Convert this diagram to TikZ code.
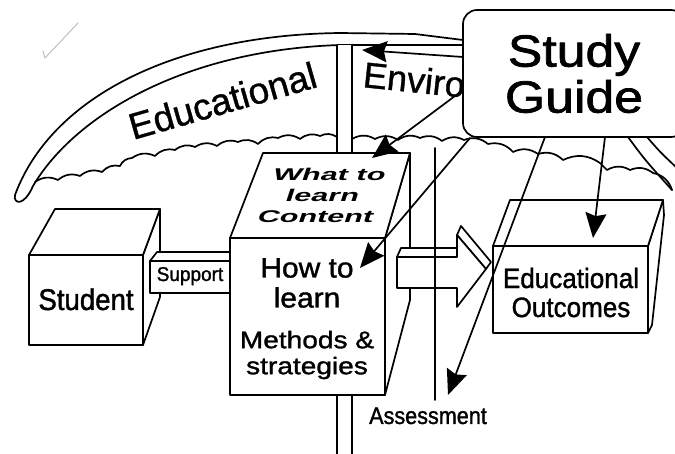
\documentclass[tikz,border=0pt]{standalone}
\usepackage{fontspec}
\setmainfont{Liberation Sans}
\usetikzlibrary{arrows.meta}
\newcommand\myfs[2]{\fontsize{#1}{#2}\selectfont}
\begin{document}
\begin{tikzpicture}[x=1pt,y=-1pt, line join=round, line cap=round,
  ln/.style={line width=1.7pt, draw=black},
  face/.style={ln, fill=white},
  lbl/.style={inner sep=0pt, text=black},
  wv/.style={bend left=30},
  sgarrow/.style={ln, -{Stealth[length=25pt,width=21pt,inset=3pt]}},
]
\path[use as bounding box] (0,0) rectangle (675,454);
\clip (0,0) rectangle (675,454);

% stray pen mark
\draw[gray!55, line width=0.9pt] (43,51) -- (45,58) -- (78,23);

% canopy band
\draw[ln] (463,40) -- (415,34) -- (340,33) .. controls (170,35) and (50,100) .. (15,195)
  .. controls (13,204) and (24,207) .. (33,186)
  .. controls (75,115) and (185,50) .. (340,45) -- (463,45);
% right side of band
\draw[ln] (628,137) .. controls (645,160) .. (672,190);
\draw[ln] (647,137) .. controls (660,152) .. (677,168);

% wavy underside of canopy
\draw[ln] (35,182) to[wv] (58,180) to[wv] (80,176) to[wv] (102,172) to[wv] (120,166)
  to[wv] (132,158) to[wv] (155,156) to[wv] (175,150) to[wv] (195,147) to[wv] (217,146)
  to[wv] (238,142) to[wv] (258,144) to[wv] (278,138) to[wv] (300,139) to[wv] (320,136)
  to[wv] (337,137);
\draw[ln] (352,139) to[wv] (375,139) to[wv] (398,140) to[wv] (420,138) to[wv] (442,141)
  to[wv] (464,140) to[wv] (488,144) to[wv] (513,152) to[wv] (538,154) to[wv] (563,160)
  to[wv] (600,163) -- (607,170) to[wv] (630,170) to[wv] (653,173) to[wv] (672,190);

% canopy labels
\node[lbl, anchor=base west, rotate=16, font=\myfs{37}{37}\addfontfeatures{FakeBold=1}] (edu) at (133,140) {Educational};
\node[lbl, anchor=base west, rotate=-6, font=\myfs{36}{36}\addfontfeatures{FakeBold=1}] (env) at (362,87) {Enviro};

% pillar
\path[fill=white] (337,45) rectangle (352,153);
\draw[ln] (337,45) -- (337,153) (352,45) -- (352,153);
\draw[ln] (337,395) -- (337,458) (352,395) -- (352,458);

% student cube
\path[face] (143,255) -- (160,209) -- (160,297) -- (143,345) -- cycle;
\path[face] (29,255) -- (55,209) -- (160,209) -- (143,255) -- cycle;
\path[face] (29,255) rectangle (143,345);
\node[lbl, anchor=base, font=\myfs{30}{30}\addfontfeatures{FakeStretch=0.92,FakeBold=1.3}] (student) at (86,310) {Student};

% support bar
\path[face] (150,261) -- (157,252) -- (231,252) -- (231,261) -- cycle;
\path[face] (150,261) rectangle (231,293);
\node[lbl, anchor=base, font=\myfs{20}{20}\addfontfeatures{FakeStretch=0.95,FakeBold=1.3}] (support) at (190,281) {Support};

% main cube
\path[face] (385,238) -- (410,153) -- (410,300) -- (385,395) -- cycle;
\path[face] (230,238) -- (263,153) -- (410,153) -- (385,238) -- cycle;
\path[face] (230,238) rectangle (385,395);
\begin{scope}[shift={(323,195)}, xslant=0.33]
\node[lbl, transform shape, align=center, font=\bfseries\myfs{17}{21}\addfontfeatures{FakeStretch=1.8}] (what) at (0,0) {What to\\learn\\Content};
\end{scope}
\node[lbl, align=center, font=\myfs{28}{30}\addfontfeatures{FakeStretch=1.07,FakeBold=1.3}] (howto) at (307,283) {How to\\learn};
\node[lbl, align=center, font=\myfs{24}{26}\addfontfeatures{FakeStretch=1.17,FakeBold=1.3}] (methods) at (307,355) {Methods \&\\strategies};

% big block arrow
\path[face] (397,257) -- (401,248) -- (457,248) -- (457,257) -- cycle;
\path[face] (457,235) -- (461,226) -- (491,262) -- (486,269) -- cycle;
\path[face] (397,257) -- (457,257) -- (457,235) -- (486,269) -- (457,307) -- (457,288) -- (397,288) -- cycle;

% assessment line
\coordinate (asT) at (435,148);
\coordinate (asB) at (435,400);
\draw[ln] (asT) -- (asB);
\node[lbl, anchor=base, font=\myfs{24}{24}\addfontfeatures{FakeStretch=0.9,FakeBold=1.3}] (assess) at (428,424) {Assessment};

% educational outcomes cube
\path[face] (648,246) -- (663,200) -- (664,215) -- (652,325) -- (648,333) -- cycle;
\path[face] (493,246) -- (510,200) -- (663,200) -- (648,246) -- cycle;
\path[face] (493,246) rectangle (648,333);
\node[lbl, align=center, font=\myfs{28}{29}\addfontfeatures{FakeStretch=0.93,FakeBold=1.3}] (outc) at (571,292.5) {Educational\\Outcomes};

% study guide
\node[face, rounded corners=14pt, minimum width=222pt, minimum height=127pt, inner sep=0pt,
  align=center, font=\myfs{45}{46}\addfontfeatures{FakeStretch=1.15,FakeBold=1.6}] (sg) at (574,73.5) {Study\\Guide};

% arrows from the study guide
\coordinate (a1s) at (463,57);  \coordinate (a1t) at (362,50);
\coordinate (a2s) at (463,90);  \coordinate (a2t) at (372,158);
\coordinate (a3s) at (470,138); \coordinate (a3t) at (360,268);
\coordinate (a4s) at (545,137); \coordinate (a4t) at (448,395);
\coordinate (a5s) at (605,137); \coordinate (a5t) at (593,238);
\draw[sgarrow] (a1s) -- (a1t);
\draw[sgarrow] (a2s) -- (a2t);
\draw[sgarrow] (a3s) -- (a3t);
\draw[sgarrow] (a4s) -- (a4t);
\draw[sgarrow] (a5s) -- (a5t);
\end{tikzpicture}
\end{document}
